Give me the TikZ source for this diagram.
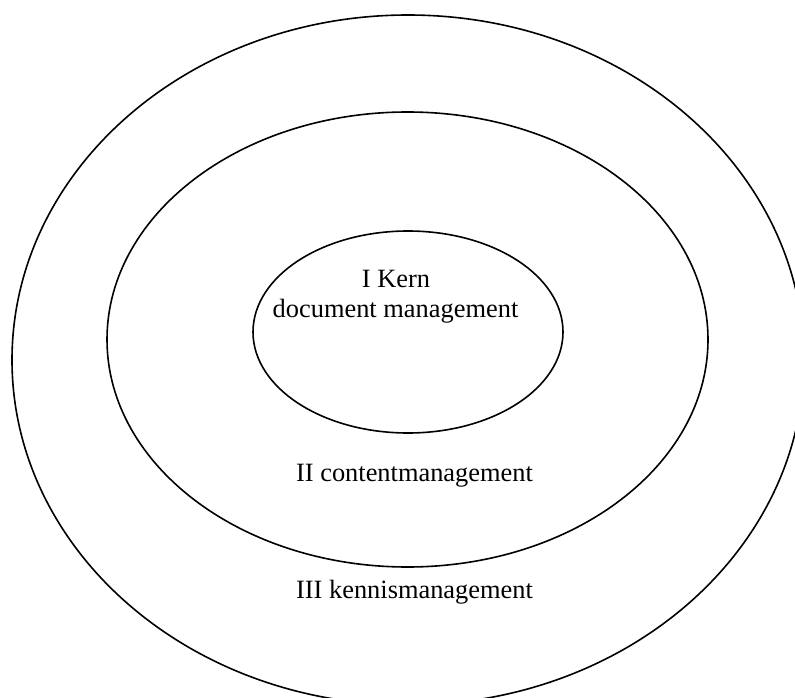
\documentclass[tikz,border=0pt]{standalone}
\usepackage{fontspec}
\setmainfont{Liberation Serif}
\begin{document}
\begin{tikzpicture}[x=1pt,y=-1pt,
  ring/.style={draw=black,line width=1.6pt},
  lbl/.style={font=\fontsize{26.4}{30}\selectfont,anchor=base,inner sep=0pt}]
\useasboundingbox (0,0) rectangle (795,698);
\clip (0,0) rectangle (795,698);
\draw[ring] (408,360) ellipse [x radius=396, y radius=345];
\draw[ring] (407.5,339.5) ellipse [x radius=300.5, y radius=227.5];
\draw[ring] (408,332) ellipse [x radius=155, y radius=101];
\node[lbl] (kern) at (396,287) {I Kern};
\node[lbl] (dm) at (395.5,317) {document management};
\node[lbl] (cm) at (414.5,481) {II contentmanagement};
\node[lbl] (km) at (414.5,598) {III kennismanagement};
\end{tikzpicture}
\end{document}
